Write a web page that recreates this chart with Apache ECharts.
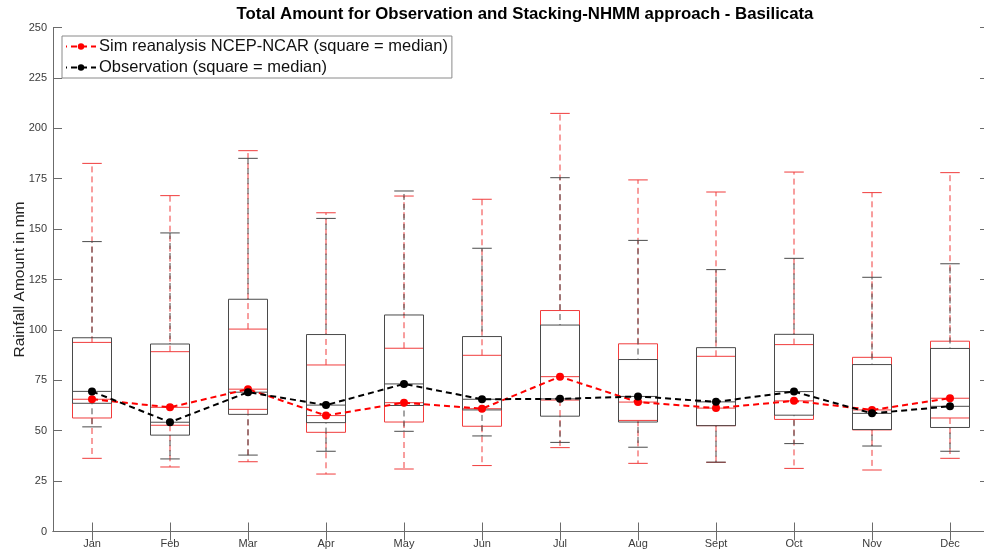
<!DOCTYPE html>
<html>
<head>
<meta charset="utf-8">
<script src="https://cdn.jsdelivr.net/npm/echarts@6/dist/echarts.min.js"></script>
<style>
  html, body { margin: 0; padding: 0; background: #fff; }
  #chart { width: 984px; height: 551px; }
</style>
</head>
<body>
<div id="chart"></div>
<script>
// Monthly rainfall totals (mm) for Basilicata: box statistics per month
const months = ['Jan', 'Feb', 'Mar', 'Apr', 'May', 'Jun', 'Jul', 'Aug', 'Sept', 'Oct', 'Nov', 'Dec'];

// Simulation driven by NCEP-NCAR reanalysis (Stacking-NHMM)
const simLow    = [36.3, 32.0, 34.6, 28.5, 31.0, 32.7, 41.6, 33.8, 34.3, 31.3, 30.5, 36.3];
const simQ1     = [56.3, 52.7, 60.6, 49.2, 54.3, 52.2, 65.2, 55.1, 52.5, 55.6, 50.4, 56.3];
const simMedian = [65.6, 61.6, 70.6, 57.5, 63.9, 60.9, 76.8, 64.2, 61.2, 64.8, 60.3, 66.1];
const simQ3     = [93.8, 89.2, 100.4, 82.6, 90.9, 87.4, 109.6, 93.1, 86.9, 92.7, 86.4, 94.4];
const simHigh   = [182.6, 166.6, 188.9, 158.1, 166.4, 164.8, 207.4, 174.4, 168.4, 178.3, 168.1, 178.0];

// Observed totals
const obsLow    = [51.9, 36.0, 37.9, 39.8, 49.7, 47.4, 44.2, 41.8, 34.4, 43.6, 42.4, 39.8];
const obsQ1     = [63.6, 47.8, 58.1, 54.0, 62.5, 60.3, 57.2, 54.3, 52.5, 57.7, 50.6, 51.6];
const obsMedian = [69.5, 54.2, 69.1, 62.7, 73.2, 65.6, 65.8, 67.0, 64.3, 69.4, 58.6, 62.1];
const obsQ3     = [96.1, 93.0, 115.2, 97.7, 107.4, 96.7, 102.4, 85.3, 91.2, 97.8, 82.8, 90.8];
const obsHigh   = [143.8, 148.1, 185.1, 155.3, 168.9, 140.5, 175.5, 144.4, 129.9, 135.5, 126.1, 132.8];

const monthPos = months.map((m, i) => i + 1);

function boxRows(low, q1, med, q3, high) {
  return monthPos.map((x, i) => [x, low[i], q1[i], med[i], q3[i], high[i]]);
}

// Draws one box-and-whisker glyph per month in data coordinates
function boxRenderer(color, dashOffset) {
  return function (params, api) {
    const x = api.value(0);
    const lo = api.value(1), q1 = api.value(2), med = api.value(3), q3 = api.value(4), hi = api.value(5);
    const halfBox = 0.25, halfCap = 0.125;
    const c = (xx, yy) => api.coord([xx, yy]);
    const bl = c(x - halfBox, q1), tr = c(x + halfBox, q3);
    const line = (p1, p2, dashed) => ({
      type: 'line',
      shape: { x1: p1[0], y1: p1[1], x2: p2[0], y2: p2[1] },
      style: dashed
        ? { stroke: color, lineWidth: 1, lineDash: [6, 4], lineDashOffset: dashOffset }
        : { stroke: color, lineWidth: 1 }
    });
    return {
      type: 'group',
      children: [
        line(c(x, q3), c(x, hi), true),
        line(c(x, q1), c(x, lo), true),
        line(c(x - halfCap, hi), c(x + halfCap, hi), false),
        line(c(x - halfCap, lo), c(x + halfCap, lo), false),
        {
          type: 'rect',
          shape: { x: bl[0], y: tr[1], width: tr[0] - bl[0], height: bl[1] - tr[1] },
          style: { stroke: color, fill: null, lineWidth: 1 }
        },
        line(c(x - halfBox, med), c(x + halfBox, med), false)
      ]
    };
  };
}

const axisColor = '#6b6b6b';
const labelColor = '#3a3a3a';
const fontFamily = '"Liberation Sans", Arial, sans-serif';

const chart = echarts.init(document.getElementById('chart'), null, { renderer: 'canvas' });

chart.setOption({
  animation: false,
  backgroundColor: '#ffffff',
  textStyle: { fontFamily: fontFamily },
  title: {
    text: 'Total Amount for Observation and Stacking-NHMM approach - Basilicata',
    left: 520,
    textAlign: 'center',
    top: 1,
    textStyle: { fontSize: 16.8, fontWeight: 'bold', color: '#000', fontFamily: fontFamily }
  },
  legend: {
    data: ['Sim reanalysis NCEP-NCAR (square = median)', 'Observation (square = median)'],
    orient: 'vertical',
    left: 62,
    top: 36,
    itemWidth: 30,
    itemHeight: 8,
    itemGap: 4,
    padding: [2, 4, 2, 3],
    backgroundColor: '#ffffff',
    borderColor: '#8a8a8a',
    borderWidth: 1,
    borderRadius: 0,
    textStyle: { fontSize: 16.5, color: '#111', fontFamily: fontFamily, padding: [0, 0, 0, -2] }
  },
  grid: { left: 53, right: -5, top: 27.5, bottom: 19.5, containLabel: false, outerBoundsMode: 'none' },
  xAxis: [
    {
      type: 'value',
      min: 0.5,
      max: 12.5,
      position: 'bottom',
      splitLine: { show: false },
      axisLine: { show: true, lineStyle: { color: axisColor, width: 1 } },
      axisTick: { show: true, inside: true, length: 9, customValues: monthPos, lineStyle: { color: axisColor } },
      axisLabel: {
        show: true,
        customValues: monthPos,
        formatter: v => months[Math.round(v) - 1],
        color: labelColor,
        fontSize: 11,
        margin: 7
      }
    },
    {
      type: 'value',
      min: 0.5,
      max: 12.5,
      position: 'top',
      splitLine: { show: false },
      axisLine: { show: true, lineStyle: { color: axisColor, width: 1 } },
      axisTick: { show: true, inside: true, length: 9, customValues: monthPos, lineStyle: { color: axisColor } },
      axisLabel: { show: false }
    }
  ],
  yAxis: [
    {
      type: 'value',
      min: 0,
      max: 250,
      interval: 25,
      position: 'left',
      name: 'Rainfall Amount in mm',
      nameLocation: 'middle',
      nameGap: 25,
      nameMoveOverlap: false,
      nameTextStyle: { fontSize: 15.5, color: '#222', fontFamily: fontFamily },
      splitLine: { show: false },
      axisLine: { show: true, lineStyle: { color: axisColor, width: 1 } },
      axisTick: { show: true, inside: true, length: 9, lineStyle: { color: axisColor } },
      axisLabel: { color: labelColor, fontSize: 11, margin: 6 }
    },
    {
      type: 'value',
      min: 0,
      max: 250,
      interval: 25,
      position: 'right',
      splitLine: { show: false },
      axisLine: { show: true, lineStyle: { color: axisColor, width: 1 } },
      axisTick: { show: true, inside: true, length: 9, lineStyle: { color: axisColor } },
      axisLabel: { show: false }
    }
  ],
  series: [
    {
      type: 'custom',
      name: 'simBoxes',
      xAxisIndex: 0,
      yAxisIndex: 0,
      renderItem: boxRenderer('#f03c3c', 0),
      data: boxRows(simLow, simQ1, simMedian, simQ3, simHigh),
      z: 2,
      silent: true
    },
    {
      type: 'custom',
      name: 'obsBoxes',
      xAxisIndex: 0,
      yAxisIndex: 0,
      renderItem: boxRenderer('#4a4a4a', 5),
      data: boxRows(obsLow, obsQ1, obsMedian, obsQ3, obsHigh),
      z: 2,
      silent: true
    },
    {
      type: 'line',
      name: 'Sim reanalysis NCEP-NCAR (square = median)',
      xAxisIndex: 0,
      yAxisIndex: 0,
      data: monthPos.map((x, i) => [x, simMedian[i]]),
      symbol: 'circle',
      symbolSize: 8,
      showSymbol: true,
      itemStyle: { color: '#ff0000' },
      lineStyle: { color: '#ff0000', width: 2, type: [6, 4] },
      z: 4
    },
    {
      type: 'line',
      name: 'Observation (square = median)',
      xAxisIndex: 0,
      yAxisIndex: 0,
      data: monthPos.map((x, i) => [x, obsMedian[i]]),
      symbol: 'circle',
      symbolSize: 8,
      showSymbol: true,
      itemStyle: { color: '#000000' },
      lineStyle: { color: '#000000', width: 2, type: [6, 4] },
      z: 5
    }
  ]
});
</script>
</body>
</html>
